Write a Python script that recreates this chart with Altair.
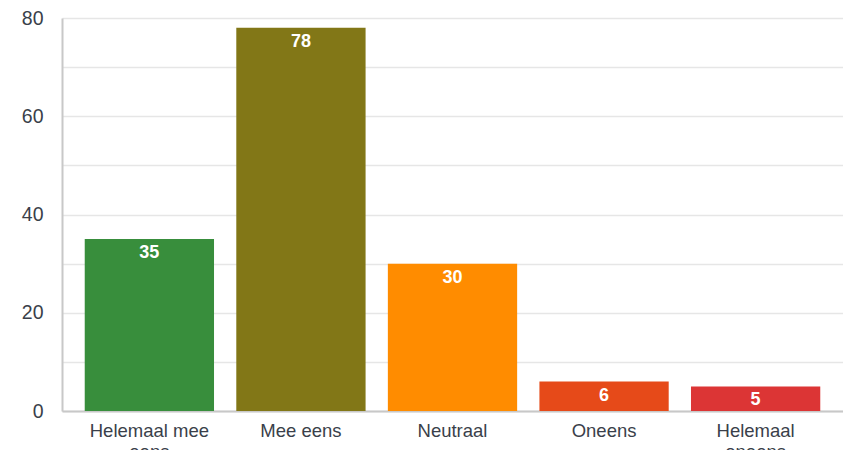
import altair as alt
import pandas as pd

categories = ["Helemaal mee eens", "Mee eens", "Neutraal", "Oneens", "Helemaal oneens"]
wrapped = [["Helemaal mee", "eens"], ["Mee eens"], ["Neutraal"], ["Oneens"], ["Helemaal", "oneens"]]
values = [35, 78, 30, 6, 5]
colors = ["#388E3C", "#827717", "#FF8C00", "#E64A19", "#DC3535"]

df = pd.DataFrame({"cat": categories, "val": values})

label_expr = " : ".join(
    f"datum.label == '{c}' ? {w!r}" for c, w in zip(categories, wrapped)
) + " : datum.label"

x = alt.X("cat:N", sort=categories, title=None,
          scale=alt.Scale(paddingInner=0.147, paddingOuter=0.15),
          axis=alt.Axis(labelAngle=0, labelExpr=label_expr, ticks=False,
                        domainColor="#c8c8c8", domainWidth=2,
                        labelFontSize=18.5, labelColor="#3a3f4a", labelPadding=10,
                        labelFont="Liberation Sans", labelLineHeight=21))

bars = alt.Chart(df).mark_bar().encode(
    x=x,
    y=alt.Y("val:Q", title=None, scale=alt.Scale(domain=[0, 80]),
            axis=alt.Axis(values=list(range(0, 81, 10)), ticks=False,
                          labelExpr="datum.value % 20 == 0 ? datum.label : ''",
                          domainColor="#c8c8c8", domainWidth=2,
                          gridColor="#e6e6e6", gridWidth=1.5,
                          labelFontSize=19.5, labelColor="#3a3f4a", labelPadding=19,
                          labelFont="Liberation Sans")),
    color=alt.Color("cat:N", sort=categories,
                    scale=alt.Scale(domain=categories, range=colors), legend=None),
)

text = alt.Chart(df).mark_text(baseline="top", dy=5, color="white",
                               fontSize=18, fontWeight="bold",
                               font="Liberation Sans").encode(
    x=alt.X("cat:N", sort=categories),
    y="val:Q",
    text="val:Q",
)

chart = (bars + text).properties(
    width=781, height=393,
    padding={"left": 54, "top": 10, "right": 0, "bottom": 39},
    autosize=alt.AutoSizeParams(type="none"),
).configure_view(stroke=None)

chart.save("out.html", embed_options={"renderer": "svg", "actions": False})
